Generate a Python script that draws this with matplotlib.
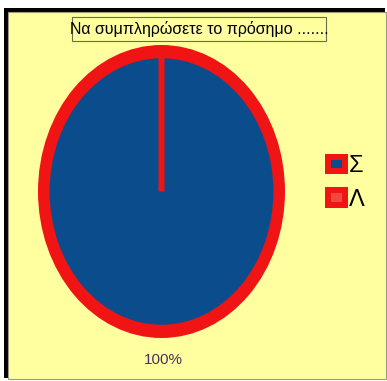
import matplotlib
matplotlib.use("Agg")
import matplotlib.pyplot as plt
from matplotlib.patches import Rectangle, Circle

plt.rcParams["font.family"] = ["Liberation Sans", "DejaVu Sans"]

titlos = "Να συμπληρώσετε το πρόσημο ......."
katigories = ["Σ", "Λ"]
pososta = [100, 0]
xromata = ["#0b4c8c", "#f04a40"]

KITRINO = "#ffffa0"
KOKKINO = "#f01414"

W, H = 387, 381
fig = plt.figure(figsize=(W / 100, H / 100), dpi=100)
fig.patch.set_facecolor("white")


def orthogonio(x0, y0, x1, y1):
    # pixel coords (top-down) -> figure fraction
    return (x0 / W, 1 - y1 / H), (x1 - x0) / W, (y1 - y0) / H


# plaisio me skia aristera/pano
xy, w, h = orthogonio(4, 8, 385, 378)
fig.add_artist(Rectangle(xy, w, h, transform=fig.transFigure, facecolor="black",
                         edgecolor="none", zorder=-2))
xy, w, h = orthogonio(8, 12, 386, 379)
fig.add_artist(Rectangle(xy, w, h, transform=fig.transFigure, facecolor=KITRINO,
                         edgecolor="#9a9a80", linewidth=0.8, zorder=-1))

# pita (elleiptiki)
(ax_x, ax_y), ax_w, ax_h = orthogonio(38, 45, 285, 338)
ax = fig.add_axes([ax_x, ax_y, ax_w, ax_h])
ax.add_patch(Circle((0, 0), 1.0, facecolor=KOKKINO, edgecolor="none", zorder=0))
wedges, _ = ax.pie(pososta, colors=xromata, startangle=90, counterclock=False,
                   radius=0.93, normalize=True,
                   wedgeprops=dict(edgecolor=KOKKINO, linewidth=4.3, joinstyle="round"))
ax.set_aspect("auto")
ax.set_xlim(-1, 1)
ax.set_ylim(-1, 1)
ax.axis("off")

# pososto tou Σ
fig.text(163 / W, 1 - 360 / H, f"{pososta[0] / sum(pososta) * 100:.0f}%",
         ha="center", va="center", fontsize=11, color="#4a3060")

# titlos se plaisio
xy, w, h = orthogonio(72, 17, 326, 41)
fig.add_artist(Rectangle(xy, w, h, transform=fig.transFigure, facecolor=KITRINO,
                         edgecolor="#6b6b50", linewidth=0.8, zorder=2))
fig.text(199 / W, 1 - 29 / H, titlos, ha="center", va="center", fontsize=11.5,
         color="black", zorder=3)

# ypomnima
fig.legend(wedges, katigories, loc="upper left", bbox_to_anchor=(328 / W, 1 - 155 / H),
           frameon=False, fontsize=17, handlelength=0.72, handleheight=0.55,
           handletextpad=0.15, labelspacing=0.5, borderpad=0, borderaxespad=0)

fig.savefig("out.png", dpi=100)
